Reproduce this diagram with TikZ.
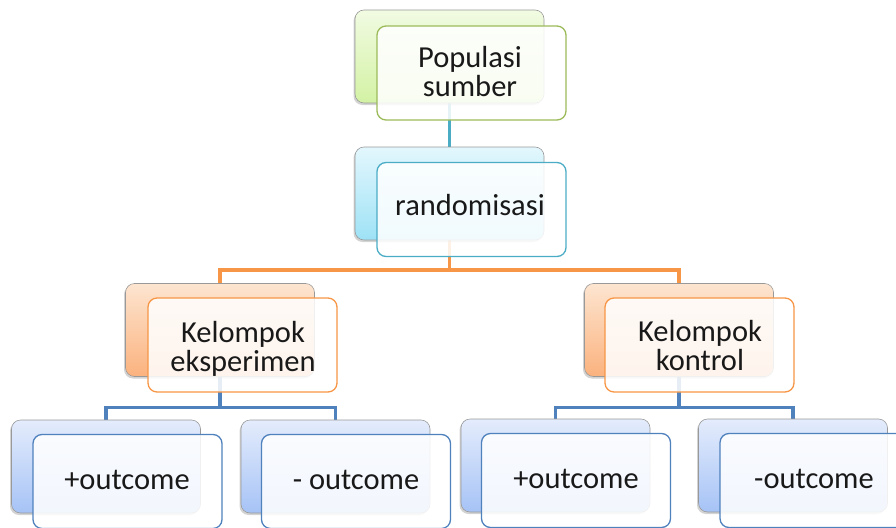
\documentclass[tikz,border=0pt]{standalone}
\usepackage{fontspec}
\setmainfont{Carlito}
\usetikzlibrary{shadows,backgrounds}
\definecolor{grT}{HTML}{F1FBE2}
\definecolor{grB}{HTML}{D3F2A4}
\definecolor{grL}{HTML}{9BBB59}
\definecolor{cyT}{HTML}{E3F7FD}
\definecolor{cyB}{HTML}{9EE2F6}
\definecolor{cyL}{HTML}{4BACC6}
\definecolor{orT}{HTML}{FDE5D0}
\definecolor{orB}{HTML}{FBB27E}
\definecolor{orL}{HTML}{F79646}
\definecolor{blT}{HTML}{E4ECFC}
\definecolor{blB}{HTML}{A6C3F6}
\definecolor{blL}{HTML}{4F81BD}
\begin{document}
\begin{tikzpicture}[x=1pt,y=-1pt,
  backbox/.style 2 args={draw=black!40, line width=0.6pt, rounded corners=9pt,
    top color=#1, bottom color=#2, minimum width=189pt, minimum height=93pt,
    inner sep=0pt, outer sep=0pt,
    drop shadow={shadow xshift=-1.5pt, shadow yshift=-2pt, opacity=0.35}},
  frontbox/.style={draw=#1, line width=1.3pt, rounded corners=9pt, fill=white,
    fill opacity=0.86, text opacity=1, minimum width=189pt, minimum height=94pt,
    inner sep=0pt, outer sep=0pt},
  lbl/.style={font=\fontsize{30.5}{29}\selectfont, align=center, text=black!90, inner sep=0pt},
  conn/.style={draw=#1, line width=3.2pt}]
\clip (0,0) rectangle (896,527);
\useasboundingbox (0,0) rectangle (896,527);
% back boxes
\node[backbox={grT}{grB}] (popB) at (449.5,56.5) {};
\node[backbox={cyT}{cyB}] (randB) at (449.5,193.5) {};
\node[backbox={orT}{orB}] (eksB) at (220,330) {};
\node[backbox={orT}{orB}] (konB) at (679,330) {};
\node[backbox={blT}{blB}] (o1B) at (106,466.5) {};
\node[backbox={blT}{blB}] (o2B) at (335.5,466.5) {};
\node[backbox={blT}{blB}] (o3B) at (555.5,465.5) {};
\node[backbox={blT}{blB}] (o4B) at (793,465.5) {};
% front boxes
\node[frontbox=grL] (popF) at (471.5,73) {};
\node[frontbox=cyL] (randF) at (471.5,209.5) {};
\node[frontbox=orL] (eksF) at (242.5,345) {};
\node[frontbox=orL] (konF) at (699.5,345) {};
\node[frontbox=blL] (o1F) at (127.5,481.5) {};
\node[frontbox=blL] (o2F) at (356,481.5) {};
\node[frontbox=blL] (o3F) at (576,480.5) {};
\node[frontbox=blL] (o4F) at (814.5,480.5) {};
% labels
\node[lbl] (popT) at (470,72) {Populasi\\sumber};
\node[lbl, anchor=base] (randT) at (470,215) {randomisasi};
\node[lbl] (eksT) at (243,348.5) {Kelompok\\eksperimen};
\node[lbl] (konT) at (700,345.5) {Kelompok\\kontrol};
\node[lbl, anchor=base] (o1T) at (127,489) {+outcome};
\node[lbl, anchor=base] (o2T) at (356,489) {- outcome};
\node[lbl, anchor=base] (o3T) at (576,488) {+outcome};
\node[lbl, anchor=base] (o4T) at (814,488) {-outcome};
% connectors
\begin{scope}[on background layer]
\draw[conn=cyL] (popB.south) -- (randB.north);
\draw[conn=orL] (randB.south) -- ++(0,30) -| (eksB.north);
\draw[conn=orL] (randB.south) -- ++(0,30) -| (konB.north);
\draw[conn=blL] (eksB.south) -- ++(0,31) -| (o1B.north);
\draw[conn=blL] (eksB.south) -- ++(0,31) -| (o2B.north);
\draw[conn=blL] (konB.south) -- ++(0,31) -| (o3B.north);
\draw[conn=blL] (konB.south) -- ++(0,31) -| (o4B.north);
\end{scope}
\end{tikzpicture}
\end{document}
